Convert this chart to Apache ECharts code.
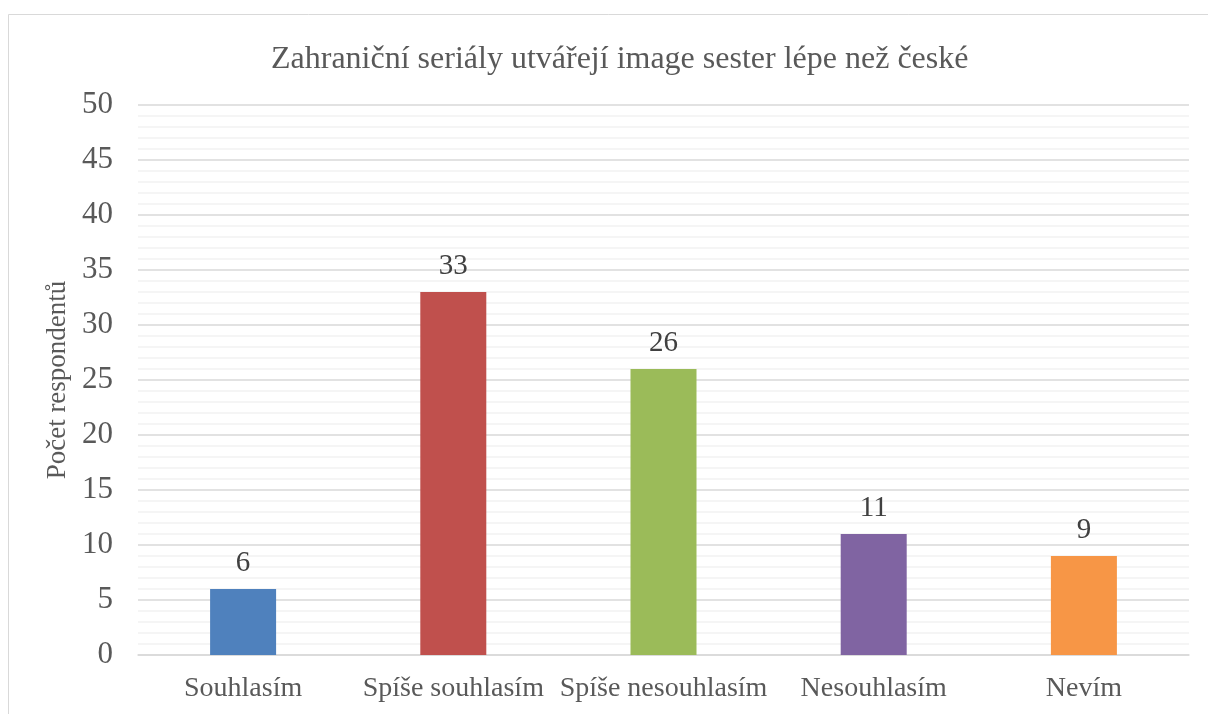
<!DOCTYPE html>
<html>
<head>
<meta charset="utf-8">
<script src="https://cdn.jsdelivr.net/npm/echarts@6/dist/echarts.min.js"></script>
<style>
  html, body { margin: 0; padding: 0; background: #fff; }
  #chart { width: 1208px; height: 714px; }
</style>
</head>
<body>
<div id="chart"></div>
<script>
// kategorie a hodnoty
var categories = ['Souhlasím', 'Spíše souhlasím', 'Spíše nesouhlasím', 'Nesouhlasím', 'Nevím'];
var values = [6, 33, 26, 11, 9];
var barColors = ['#4F81BD', '#C0504D', '#9BBB59', '#8064A2', '#F79646'];
var titleText = 'Zahraniční seriály utvářejí image sester lépe než české';
var yName = 'Počet respondentů';

var font = 'Liberation Serif, Times New Roman, serif';
var textColor = '#595959';

var chart = echarts.init(document.getElementById('chart'));

var option = {
    backgroundColor: '#fff',
    animation: false,
    title: {
        text: titleText,
        left: 266,
        top: 39,
        textStyle: { fontFamily: font, fontSize: 32, fontWeight: 'normal', color: textColor }
    },
    // rámeček grafu
    graphic: [{
        type: 'rect',
        shape: { x: 8.5, y: 14.5, width: 1300, height: 800 },
        style: { fill: 'none', stroke: '#d9d9d9', lineWidth: 1 },
        silent: true
    }],
    grid: { left: 138, right: 19, top: 105, bottom: 59 },
    xAxis: {
        type: 'category',
        data: categories,
        axisLine: { lineStyle: { color: '#d9d9d9', width: 1.5 } },
        axisTick: { show: false },
        axisLabel: { fontFamily: font, fontSize: 28, color: textColor, margin: 20, interval: 0 }
    },
    yAxis: {
        type: 'value',
        min: 0,
        max: 50,
        interval: 5,
        name: yName,
        nameLocation: 'middle',
        nameGap: 64,
        nameTextStyle: { fontFamily: font, fontSize: 27, color: textColor },
        axisLine: { show: false },
        axisTick: { show: false },
        axisLabel: { fontFamily: font, fontSize: 31, color: textColor, margin: 25 },
        splitLine: { lineStyle: { color: '#d9d9d9', width: 1.5 } },
        minorTick: { show: false, splitNumber: 5 },
        minorSplitLine: { show: true, lineStyle: { color: '#f2f2f2', width: 1.5 } }
    },
    series: [{
        type: 'bar',
        data: values.map(function (v, i) {
            return { value: v, itemStyle: { color: barColors[i] } };
        }),
        barWidth: 66,
        label: {
            show: true,
            position: 'top',
            distance: 11,
            fontFamily: font,
            fontSize: 29,
            color: '#404040'
        }
    }]
};

chart.setOption(option);
</script>
</body>
</html>
